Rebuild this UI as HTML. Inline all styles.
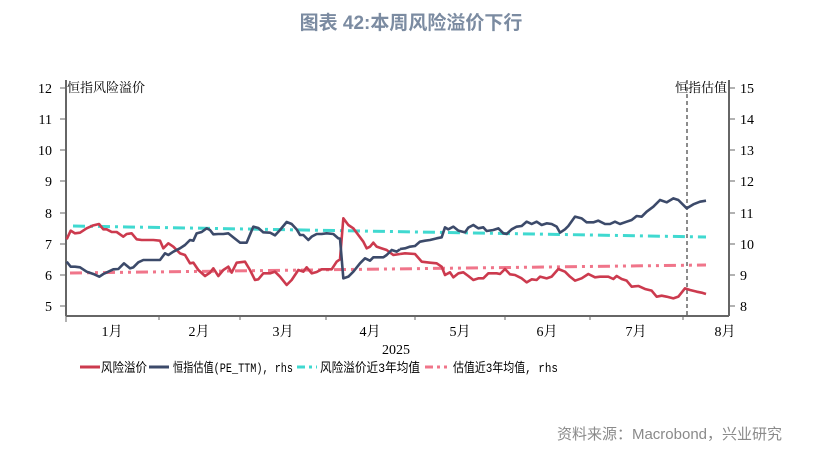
<!DOCTYPE html>
<html><head><meta charset="utf-8"><style>
body{margin:0;width:822px;height:449px;background:#fff;overflow:hidden;position:relative;font-family:"Liberation Serif","Noto Serif CJK SC",serif}
.t{position:absolute;left:0;width:822px;top:8px;text-align:center;font:bold 19px "Liberation Sans","Noto Sans CJK SC",sans-serif;color:#7b8ba1}
.s{position:absolute;right:40px;top:423px;font:15px "Liberation Sans","Noto Sans CJK SC",sans-serif;color:#8a8a8a}
</style></head><body>
<div class="t">图表 42:本周风险溢价下行</div>
<svg width="822" height="449" style="position:absolute;left:0;top:0" font-family="Liberation Serif,Noto Serif CJK SC,serif" font-size="14" fill="#000">
<g stroke="#666" stroke-width="2" fill="none">
<line x1="66" y1="80" x2="66" y2="316"/><line x1="729" y1="80" x2="729" y2="316"/><line x1="66" y1="316" x2="729" y2="316"/>
</g>
<g stroke="#666" stroke-width="1">
<line x1="60" y1="88" x2="66" y2="88"/><line x1="60" y1="119" x2="66" y2="119"/><line x1="60" y1="150" x2="66" y2="150"/><line x1="60" y1="181" x2="66" y2="181"/><line x1="60" y1="213" x2="66" y2="213"/><line x1="60" y1="244" x2="66" y2="244"/><line x1="60" y1="275" x2="66" y2="275"/><line x1="60" y1="306" x2="66" y2="306"/>
<line x1="729" y1="88" x2="735" y2="88"/><line x1="729" y1="119" x2="735" y2="119"/><line x1="729" y1="150" x2="735" y2="150"/><line x1="729" y1="181" x2="735" y2="181"/><line x1="729" y1="213" x2="735" y2="213"/><line x1="729" y1="244" x2="735" y2="244"/><line x1="729" y1="275" x2="735" y2="275"/><line x1="729" y1="306" x2="735" y2="306"/>
<line x1="66" y1="316" x2="66" y2="322"/><line x1="159" y1="316" x2="159" y2="320"/><line x1="240" y1="316" x2="240" y2="320"/><line x1="326" y1="316" x2="326" y2="320"/><line x1="415" y1="316" x2="415" y2="320"/><line x1="505" y1="316" x2="505" y2="320"/><line x1="590" y1="316" x2="590" y2="320"/><line x1="683" y1="316" x2="683" y2="320"/>
</g>
<g text-anchor="end"><text x="52" y="93">12</text><text x="52" y="124">11</text><text x="52" y="155">10</text><text x="52" y="186">9</text><text x="52" y="218">8</text><text x="52" y="249">7</text><text x="52" y="280">6</text><text x="52" y="311">5</text></g>
<g><text x="740" y="93">15</text><text x="740" y="124">14</text><text x="740" y="155">13</text><text x="740" y="186">12</text><text x="740" y="218">11</text><text x="740" y="249">10</text><text x="740" y="280">9</text><text x="740" y="311">8</text></g>
<g text-anchor="middle"><text x="112" y="336">1月</text><text x="199" y="336">2月</text><text x="283" y="336">3月</text><text x="370" y="336">4月</text><text x="460" y="336">5月</text><text x="547" y="336">6月</text><text x="636" y="336">7月</text><text x="725" y="336">8月</text><text x="396" y="354">2025</text></g>
<text x="67" y="92" font-size="13">恒指风险溢价</text>
<text x="727" y="92" font-size="13" text-anchor="end">恒指估值</text>
<line x1="687" y1="80" x2="687" y2="316" stroke="#666" stroke-width="1.5" stroke-dasharray="4,3"/>
<line x1="73" y1="226" x2="706" y2="237" stroke="#40d9d0" stroke-width="3" stroke-dasharray="12,5,3,5"/>
<line x1="70" y1="273" x2="706" y2="265" stroke="#f0758a" stroke-width="3" stroke-dasharray="12,5,3,5,3,5"/>
<g fill="none" stroke-width="2.6" stroke-linejoin="round">
<polyline vector-effect="non-scaling-stroke" stroke="#cc3a4e" transform="translate(0,70) scale(0.33333)" points="200,508 212,482 225,490 240,488 260,475 280,466 297,462 310,478 320,478 335,486 350,486 370,500 380,492 395,490 410,508 425,510 460,510 480,512 490,535 505,520 520,530 540,550 555,555 570,580 580,578 595,600 615,618 630,608 640,595 655,618 670,600 685,590 695,608 710,578 735,575 750,600 765,630 775,628 790,610 810,610 825,605 840,620 860,645 875,630 895,600 910,605 920,592 935,610 950,606 965,598 980,598 995,598 1010,575 1020,568 1030,445 1045,465 1060,475 1075,495 1090,515 1100,535 1110,530 1120,518 1130,530 1145,535 1160,540 1180,555 1200,552"/>
<polyline vector-effect="non-scaling-stroke" stroke="#cc3a4e" transform="translate(400,70) scale(0.33333)" points="0,552 15,550 45,552 65,575 90,578 110,580 125,590 135,615 150,607 160,622 175,610 190,607 205,618 220,630 235,625 250,625 265,610 290,610 300,612 315,597 330,613 345,615 365,625 380,637 395,628 410,630 420,620 440,625 455,620 475,597 495,605 510,620 525,632 545,625 565,612 585,622 600,620 625,620 640,627 650,618 665,627 680,632 695,650 715,648 735,657 755,662 770,680 785,677 800,680 820,685 835,680 855,655 870,660 890,665 905,668 918,672"/>
<polyline vector-effect="non-scaling-stroke" stroke="#3c4a6a" transform="translate(0,70) scale(0.33333)" points="200,575 212,590 225,590 240,592 260,605 280,612 298,620 310,612 325,605 340,598 355,597 372,580 390,595 400,592 415,577 430,570 480,570 495,550 505,555 520,545 540,535 555,525 570,510 580,512 590,490 605,486 620,475 630,480 640,493 655,492 670,492 685,490 700,502 720,518 740,518 760,470 775,474 790,487 810,488 825,496 840,480 860,456 875,462 890,478 900,495 910,495 925,510 935,500 950,492 965,492 980,490 1000,492 1015,505 1020,506 1030,625 1045,620 1060,605 1080,580 1095,565 1110,572 1120,562 1135,562 1150,562 1160,555 1175,540 1190,545 1200,538"/>
<polyline vector-effect="non-scaling-stroke" stroke="#3c4a6a" transform="translate(400,70) scale(0.33333)" points="0,537 15,535 30,530 45,528 60,515 75,512 90,510 110,505 125,502 135,472 145,478 160,470 175,482 195,487 205,473 220,465 235,475 250,472 260,483 280,480 295,475 310,490 320,492 335,478 350,470 365,468 380,455 395,462 410,455 425,465 440,460 455,462 470,470 480,488 495,478 505,468 525,440 545,445 560,457 580,457 595,452 615,462 630,462 645,455 660,462 680,455 695,450 710,438 725,440 740,425 760,410 780,390 800,397 820,385 835,390 860,415 880,403 900,395 918,392"/>
</g>
<g font-family="Liberation Mono,Noto Sans CJK SC,monospace" font-size="13">
<line x1="80" y1="367" x2="100" y2="367" stroke="#cc3a4e" stroke-width="3"/><text x="101" y="372" textLength="46" lengthAdjust="spacingAndGlyphs">风险溢价</text>
<line x1="149" y1="367" x2="169" y2="367" stroke="#3c4a6a" stroke-width="3"/><text x="173" y="372" textLength="120" lengthAdjust="spacingAndGlyphs">恒指估值(PE_TTM), rhs</text>
<line x1="297" y1="367" x2="317" y2="367" stroke="#40d9d0" stroke-width="3" stroke-dasharray="8,4,3,4"/><text x="320" y="372" textLength="100" lengthAdjust="spacingAndGlyphs">风险溢价近3年均值</text>
<line x1="425" y1="367" x2="450" y2="367" stroke="#f0758a" stroke-width="3" stroke-dasharray="8,4,3,4,3,4"/><text x="453" y="372" textLength="105" lengthAdjust="spacingAndGlyphs">估值近3年均值, rhs</text>
</g>
</svg>
<div class="s">资料来源：Macrobond，兴业研究</div>
</body></html>
